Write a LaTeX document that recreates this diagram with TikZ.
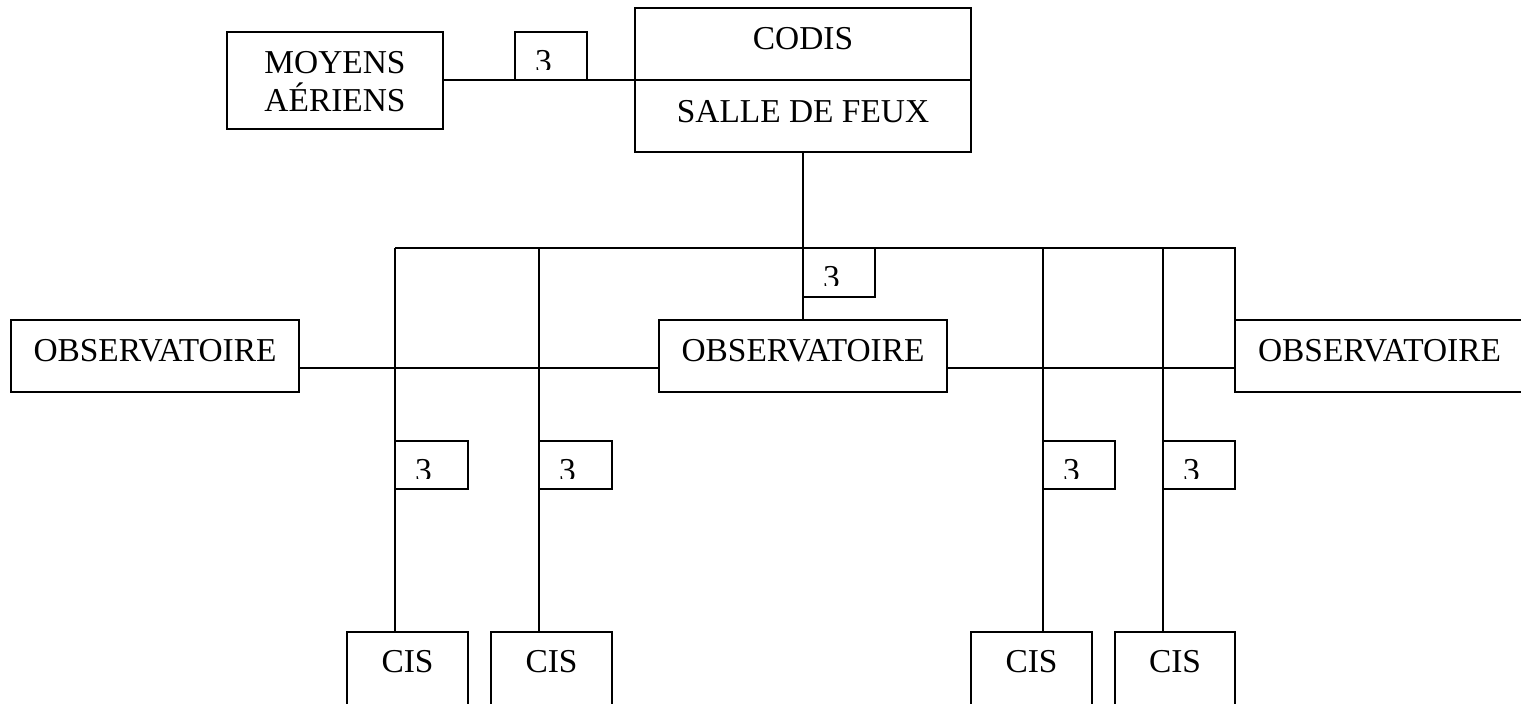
\documentclass[tikz,border=0pt]{standalone}
\usepackage{fontspec}
\setmainfont{Liberation Serif}
\tikzset{
  box/.style={draw, line width=2pt, rectangle, inner sep=0pt, outer sep=0pt},
  lbl/.style={inner sep=0pt, outer sep=0pt, anchor=base, font=\fontsize{33.4}{38}\selectfont},
  numlbl/.style={lbl, anchor=base west},
  wire/.style={line width=2pt},
}
\begin{document}
\begin{tikzpicture}[x=1pt,y=-1pt]
\useasboundingbox (0,0) rectangle (1521,704);
% boxes
\node[box, minimum width=216pt, minimum height=97pt] (moy) at (335,80.5) {};
\node[box, minimum width=72pt, minimum height=48pt] (qt) at (551,56) {};
\node[box, minimum width=336pt, minimum height=144pt] (codis) at (803,80) {};
\node[box, minimum width=72pt, minimum height=49pt] (q0) at (839,272.5) {};
\node[box, minimum width=288pt, minimum height=72pt] (obsL) at (155,356) {};
\node[box, minimum width=288pt, minimum height=72pt] (obsC) at (803,356) {};
\node[box, minimum width=289pt, minimum height=72pt] (obsR) at (1379.5,356) {};
\node[box, minimum width=73pt, minimum height=48pt] (q1) at (431.5,465) {};
\node[box, minimum width=73pt, minimum height=48pt] (q2) at (575.5,465) {};
\node[box, minimum width=72pt, minimum height=48pt] (q3) at (1079,465) {};
\node[box, minimum width=72pt, minimum height=48pt] (q4) at (1199,465) {};
\node[box, minimum width=121pt, minimum height=72.5pt] (cis1) at (407.5,668.25) {};
\node[box, minimum width=121pt, minimum height=72.5pt] (cis2) at (551.5,668.25) {};
\node[box, minimum width=121pt, minimum height=72.5pt] (cis3) at (1031.5,668.25) {};
\node[box, minimum width=120pt, minimum height=72.5pt] (cis4) at (1175,668.25) {};
% texts
\node[lbl] (tmoy1) at (335,73) {MOYENS};
\node[lbl] (tmoy2) at (335,111) {AÉRIENS};
\node[lbl] (tcodis) at (803,49) {CODIS};
\node[lbl] (tsalle) at (803,122) {SALLE DE FEUX};
\node[lbl] (tobsL) at (155,361) {OBSERVATOIRE};
\node[lbl] (tobsC) at (803,361) {OBSERVATOIRE};
\node[lbl] (tobsR) at (1379.5,361) {OBSERVATOIRE};
\node[lbl] (tcis1) at (407.5,672) {CIS};
\node[lbl] (tcis2) at (551.5,672) {CIS};
\node[lbl] (tcis3) at (1031.5,672) {CIS};
\node[lbl] (tcis4) at (1175,672) {CIS};
% numbers, clipped at the bottom as in the original
\foreach \q in {qt,q0,q1,q2,q3,q4}{
  \begin{scope}
    \clip (\q.north west) rectangle ([yshift=-37pt]\q.north east);
    \node[numlbl] (n\q) at ([xshift=20pt,yshift=-40pt]\q.north west) {3};
  \end{scope}
}
% connectors
\coordinate (hy) at (0,368);
\coordinate (b1) at (395,248);
\coordinate (b2) at (539,248);
\coordinate (b3) at (1043,248);
\coordinate (b4) at (1163,248);
\draw[wire] (moy.east |- codis.west) -- (codis.west);
\draw[wire] (codis.west) -- (codis.east);
\draw[wire] (codis.south) -- (obsC.north);
\draw[wire] (b1) -- (obsR.north west |- b1) -- (obsR.north west);
\draw[wire] (b1) -- (b1 |- cis1.north);
\draw[wire] (b2) -- (b2 |- cis2.north);
\draw[wire] (b3) -- (b3 |- cis3.north);
\draw[wire] (b4) -- (b4 |- cis4.north);
\draw[wire] (obsL.east |- hy) -- (obsC.west |- hy);
\draw[wire] (obsC.east |- hy) -- (obsR.west |- hy);
\end{tikzpicture}
\end{document}
